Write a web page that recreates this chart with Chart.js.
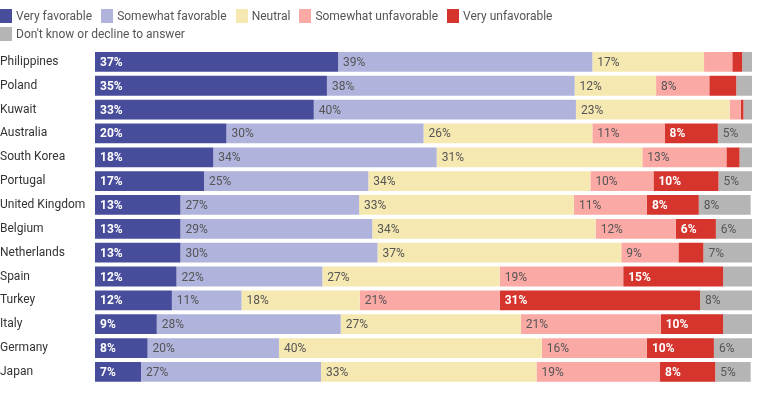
<!DOCTYPE html>
<html>
<head>
<meta charset="utf-8">
<script src="https://cdn.jsdelivr.net/npm/chart.js@4.4.1/dist/chart.umd.min.js"></script>
<style>
    body { margin: 0; background: #fff; font-family: Roboto, sans-serif; }
    #wrap { position: relative; width: 764px; height: 394px; }
    #legend { position: absolute; left: 0; top: 7px; width: 700px; display: flex; flex-wrap: wrap; font-size: 12px; color: #555; }
    .item { display: flex; align-items: center; height: 18px; margin-right: 9px; }
    .box { width: 12px; height: 14px; margin-right: 4px; }
    .brk { flex-basis: 100%; height: 0; }
</style>
</head>
<body>
<div id="wrap">
    <div id="legend"></div>
    <canvas id="chart" width="764" height="394"></canvas>
</div>
<script>
// Kategori (negara)
const countries = ['Philippines', 'Poland', 'Kuwait', 'Australia', 'South Korea', 'Portugal', 'United Kingdom',
    'Belgium', 'Netherlands', 'Spain', 'Turkey', 'Italy', 'Germany', 'Japan'];

// Nama seri
const seriesNames = ['Very favorable', 'Somewhat favorable', 'Neutral', 'Somewhat unfavorable', 'Very unfavorable',
    "Don't know or decline to answer"];

// Nilai tiap seri (persen, diperkirakan dari gambar)
const veryFavorable = [37, 35.3, 33.3, 20, 18, 16.6, 13, 13, 13, 12.4, 11.7, 9.4, 8, 7];
const somewhatFavorable = [38.7, 37.7, 39.9, 30, 34, 25, 27.2, 29.2, 30, 22.2, 10.6, 28, 20, 27.4];
const neutral = [17, 12.4, 23.4, 25.7, 31.3, 33.8, 32.7, 34, 37.1, 27, 18, 27.4, 40, 32.8];
const somewhatUnfavorable = [4.3, 8.1, 1.7, 11, 12.8, 9.6, 11.1, 12.2, 8.7, 18.8, 21.3, 21.3, 16, 18.8];
const veryUnfavorable = [1.5, 4.1, 0.4, 8.1, 2, 9.9, 7.9, 6.1, 3.8, 15.2, 30.5, 9.5, 10.2, 8.4];
const dontKnow = [1.5, 2.4, 1.3, 5.2, 1.9, 5.2, 7.9, 5.5, 7.4, 4.4, 7.9, 4.4, 6, 5.4];

const seriesValues = [veryFavorable, somewhatFavorable, neutral, somewhatUnfavorable, veryUnfavorable, dontKnow];
const seriesColors = ['#474c9b', '#b0b3dc', '#f6e8b1', '#faa9a5', '#d5352d', '#b5b5b5'];
const labelColors = ['#fff', '#555', '#555', '#555', '#fff', '#555'];
const labelBold = [true, false, false, false, true, false];

// Legend HTML (dua baris seperti referensi)
const legend = document.getElementById('legend');
seriesNames.forEach((name, i) => {
    if (i === 5) {
        const brk = document.createElement('div');
        brk.className = 'brk';
        legend.appendChild(brk);
    }
    const item = document.createElement('div');
    item.className = 'item';
    item.innerHTML = '<span class="box" style="background:' + seriesColors[i] + '"></span>' + name;
    legend.appendChild(item);
});

// Plugin label di dalam batang
const barLabels = {
    id: 'barLabels',
    afterDatasetsDraw(chart) {
        const ctx = chart.ctx;
        ctx.save();
        ctx.textBaseline = 'middle';
        ctx.textAlign = 'left';
        chart.data.datasets.forEach((ds, di) => {
            const meta = chart.getDatasetMeta(di);
            meta.data.forEach((bar, i) => {
                const v = ds.data[i];
                if (v < 5) return;
                ctx.font = (labelBold[di] ? 'bold ' : '') + '12px Roboto';
                ctx.fillStyle = labelColors[di];
                ctx.fillText(Math.round(v) + '%', Math.min(bar.x, bar.base) + 5, bar.y + 1);
            });
        });
        ctx.restore();
    }
};

new Chart(document.getElementById('chart'), {
    type: 'bar',
    data: {
        labels: countries,
        datasets: seriesNames.map((name, i) => ({
            label: name,
            data: seriesValues[i],
            backgroundColor: seriesColors[i],
            borderWidth: 0,
            barPercentage: 0.83,
            categoryPercentage: 1
        }))
    },
    options: {
        indexAxis: 'y',
        responsive: false,
        animation: false,
        layout: {
            padding: { top: 50, right: 12, bottom: 6, left: 0 }
        },
        plugins: {
            legend: { display: false },
            tooltip: { enabled: false }
        },
        scales: {
            x: {
                stacked: true,
                min: 0,
                max: 100,
                display: false
            },
            y: {
                stacked: true,
                grid: { display: false },
                border: { display: false },
                afterFit: (scale) => { scale.width = 95; },
                ticks: {
                    crossAlign: 'far',
                    color: '#333',
                    font: { family: 'Roboto', size: 12 }
                }
            }
        }
    },
    plugins: [barLabels]
});
</script>
</body>
</html>
